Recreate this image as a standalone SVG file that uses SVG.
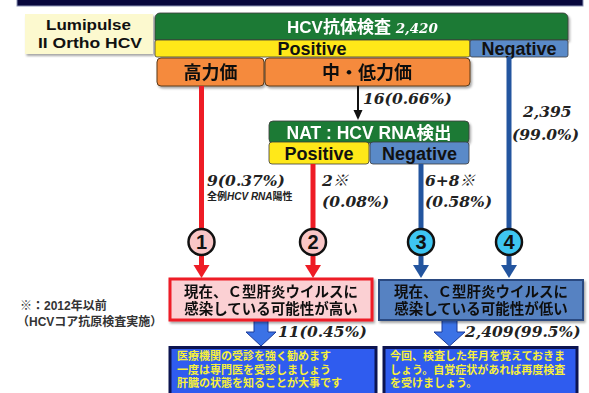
<svg xmlns="http://www.w3.org/2000/svg" width="589" height="393" viewBox="0 0 589 393">
<defs>
<filter id="sh" x="-10%" y="-10%" width="120%" height="130%">
<feDropShadow dx="1.5" dy="2" stdDeviation="1.2" flood-color="#000" flood-opacity="0.35"/>
</filter>
</defs>
<style>
.sans{font-family:"Liberation Sans","Noto Sans CJK JP",sans-serif;font-weight:bold;}
.num{font-family:"DejaVu Serif","Noto Sans CJK JP",serif;font-weight:bold;font-style:italic;font-size:15.5px;fill:#222;}
.bar{stroke:#3a3a3a;stroke-width:0.8;}
.orange{fill:#f58a3c;stroke:#5a3a1a;stroke-width:1;}
.green{fill:#1f7a36;}
.yellow{fill:#ffe819;}
.nblue{fill:#5a8ac8;}
.lbl{font-size:18px;fill:#111;text-anchor:middle;}
.wt{fill:#fff;}
.red{stroke:#ee1c25;stroke-width:5;fill:none;}
.blu{stroke:#23559f;stroke-width:5;fill:none;}
.circ{stroke:#111;stroke-width:2.5;}
.cnum{font-size:20px;fill:#111;text-anchor:middle;}
.boxt{font-size:14.5px;fill:#111;text-anchor:middle;}
.adv{fill:#2f5cef;stroke:#0c1450;stroke-width:3;}
.advt{font-size:11px;fill:#f7f03a;}
.blk{fill:#3b72e6;stroke:#1a3a9a;stroke-width:1;}
.foot{font-size:12px;fill:#333;}
</style>

<rect id="topbar" x="17" y="-6" width="566" height="12" fill="#07073c" stroke="#8a92b4" stroke-width="1"/>

<g id="lumipulse">
<rect x="25" y="14" width="128" height="40" fill="#fcf9cf" filter="url(#sh)"/>
<text class="sans" x="46" y="30" font-size="15.5" fill="#111" textLength="85" lengthAdjust="spacingAndGlyphs">Lumipulse</text>
<text class="sans" x="38" y="48" font-size="15.5" fill="#111" textLength="104" lengthAdjust="spacingAndGlyphs">II Ortho HCV</text>
</g>

<g id="hcv-antibody" filter="url(#sh)">
<path class="green bar" d="M155,40 V18 a5,5 0 0 1 5,-5 H563 a5,5 0 0 1 5,5 V40 Z"/>
<text class="sans wt" x="287" y="33" font-size="17">HCV抗体検査 <tspan font-family="DejaVu Serif" font-style="italic" font-size="13.5">2,420</tspan></text>
</g>
<g id="ab-positive">
<rect class="yellow bar" x="155" y="40" width="315" height="17" rx="2"/>
<text class="sans lbl" x="312" y="54.5">Positive</text>
</g>
<g id="ab-negative">
<rect class="nblue bar" x="470" y="40" width="98" height="17" rx="2"/>
<text class="sans lbl" x="519" y="54.5">Negative</text>
</g>

<g id="high-titer" filter="url(#sh)">
<rect class="orange" x="157" y="58" width="107" height="28" rx="4"/>
<text class="sans lbl" x="210.5" y="79">高力価</text>
</g>
<g id="mid-low-titer" filter="url(#sh)">
<rect class="orange" x="265" y="58" width="205" height="28" rx="4"/>
<text class="sans lbl" x="367" y="79">中・低力価</text>
</g>

<g id="nat" filter="url(#sh)">
<rect class="green bar" x="269" y="121" width="200" height="22" rx="4"/>
<text class="sans wt" x="369" y="138.5" font-size="17.5" text-anchor="middle">NAT : HCV RNA検出</text>
</g>
<g id="nat-positive">
<rect class="yellow bar" x="269" y="142" width="100" height="22" rx="3"/>
<text class="sans lbl" x="319" y="160">Positive</text>
</g>
<g id="nat-negative">
<rect class="nblue bar" x="370" y="142" width="99" height="22" rx="3"/>
<text class="sans lbl" x="419.5" y="160">Negative</text>
</g>

<g id="connectors">
<line class="red" x1="201.5" y1="86" x2="201.5" y2="267"/>
<polygon points="193.5,265 209.5,265 201.5,278" fill="#ee1c25"/>
<line class="red" x1="313" y1="164" x2="313" y2="267"/>
<polygon points="305,265 321,265 313,278" fill="#ee1c25"/>
<line class="blu" x1="421" y1="164" x2="421" y2="267"/>
<polygon points="413,265 429,265 421,278" fill="#23559f"/>
<line class="blu" x1="509" y1="57" x2="509" y2="267"/>
<polygon points="501,265 517,265 509,278" fill="#23559f"/>
<line x1="358" y1="86" x2="358" y2="112" stroke="#111" stroke-width="2"/>
<polygon points="353.5,110 362.5,110 358,120" fill="#111"/>
<path class="blk" d="M254,320 H268 V332 H276 L261,346 L246,332 H254 Z"/>
<path class="blk" d="M442,320 H457 V332 H465 L449.5,346 L434,332 H442 Z"/>
<text class="num" x="363" y="104">16(0.66%)</text>
<text class="num" x="207" y="186">9(0.37%)</text>
<text class="sans" x="207" y="200" font-size="10" fill="#222">全例<tspan font-style="italic">HCV RNA</tspan>陽性</text>
<text class="num" x="322" y="186">2※</text>
<text class="num" x="322" y="207">(0.08%)</text>
<text class="num" x="425" y="186">6+8※</text>
<text class="num" x="425" y="207">(0.58%)</text>
<text class="num" x="523" y="117">2,395</text>
<text class="num" x="512" y="140">(99.0%)</text>
<text class="num" x="278" y="337" font-size="16">11(0.45%)</text>
<text class="num" x="465" y="337" font-size="16">2,409(99.5%)</text>
</g>

<g id="c1"><circle class="circ" cx="201.5" cy="242" r="13" fill="#f9c6c6"/><text class="sans cnum" x="201.5" y="249">1</text></g>
<g id="c2"><circle class="circ" cx="313" cy="242" r="13" fill="#f9c6c6"/><text class="sans cnum" x="313" y="249">2</text></g>
<g id="c3"><circle class="circ" cx="421" cy="242" r="13" fill="#3ec6f2"/><text class="sans cnum" x="421" y="249">3</text></g>
<g id="c4"><circle class="circ" cx="509" cy="242" r="13" fill="#3ec6f2"/><text class="sans cnum" x="509" y="249">4</text></g>

<g id="box-high" filter="url(#sh)">
<rect x="170" y="279" width="202" height="41" fill="#fbd0d3" stroke="#ee1c25" stroke-width="3"/>
<text class="sans boxt" x="271" y="297">現在、Ｃ型肝炎ウイルスに</text>
<text class="sans boxt" x="271" y="314">感染している可能性が高い</text>
</g>
<g id="box-low" filter="url(#sh)">
<rect x="379" y="280" width="204" height="40" fill="#5682c2" stroke="#2a4a80" stroke-width="2"/>
<text class="sans boxt" x="481" y="297">現在、Ｃ型肝炎ウイルスに</text>
<text class="sans boxt" x="481" y="314">感染している可能性が低い</text>
</g>

<g id="advice-high">
<rect class="adv" x="170" y="347.5" width="206" height="50"/>
<text class="sans advt" x="177" y="359.5">医療機関の受診を強く勧めます</text>
<text class="sans advt" x="177" y="373.5">一度は専門医を受診しましょう</text>
<text class="sans advt" x="177" y="387">肝臓の状態を知ることが大事です</text>
</g>
<g id="advice-low">
<rect class="adv" x="384" y="347.5" width="193" height="50"/>
<text class="sans advt" x="390" y="359.5">今回、検査した年月を覚えておきま</text>
<text class="sans advt" x="390" y="373.5">しょう。自覚症状があれば再度検査</text>
<text class="sans advt" x="390" y="387">を受けましょう。</text>
</g>

<g id="footnote">
<text class="sans foot" x="20" y="310">※：2012年以前</text>
<text class="sans foot" x="17" y="326">（HCVコア抗原検査実施）</text>
</g>
</svg>
